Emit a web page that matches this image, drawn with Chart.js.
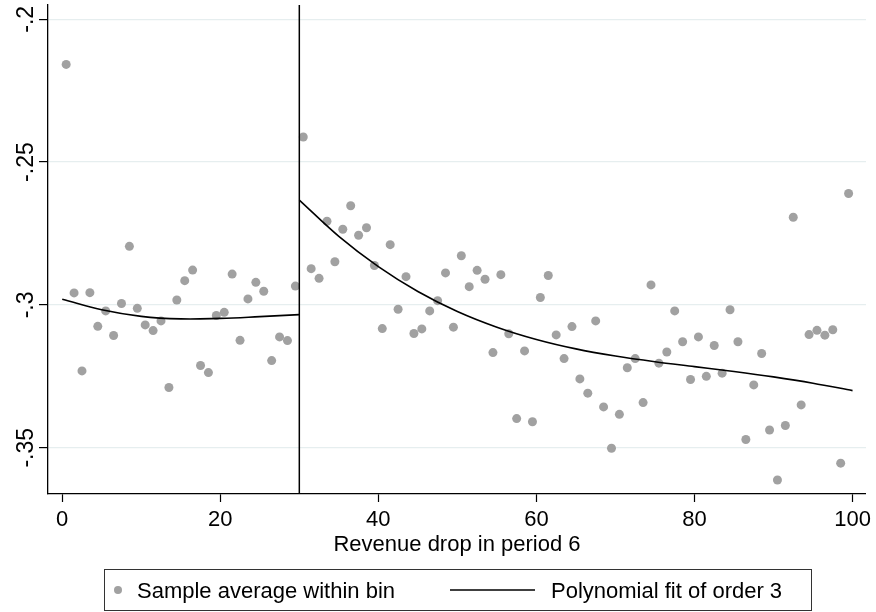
<!DOCTYPE html>
<html>
<head>
<meta charset="utf-8">
<script src="https://cdn.jsdelivr.net/npm/chart.js@4.4.1/dist/chart.umd.min.js"></script>
<style>
  html, body { margin: 0; padding: 0; background: #ffffff; }
  #wrap { position: relative; width: 876px; height: 612px; }
</style>
</head>
<body>
<div id="wrap"><canvas id="c" width="876" height="612"></canvas></div>
<script>
// ---- data ----
const binX = [
  0.5, 1.5, 2.5, 3.5, 4.5, 5.5, 6.5, 7.5, 8.5, 9.5,
  10.5, 11.5, 12.5, 13.5, 14.5, 15.5, 16.5, 17.5, 18.5, 19.5,
  20.5, 21.5, 22.5, 23.5, 24.5, 25.5, 26.5, 27.5, 28.5, 29.5,
  30.5, 31.5, 32.5, 33.5, 34.5, 35.5, 36.5, 37.5, 38.5, 39.5,
  40.5, 41.5, 42.5, 43.5, 44.5, 45.5, 46.5, 47.5, 48.5, 49.5,
  50.5, 51.5, 52.5, 53.5, 54.5, 55.5, 56.5, 57.5, 58.5, 59.5,
  60.5, 61.5, 62.5, 63.5, 64.5, 65.5, 66.5, 67.5, 68.5, 69.5,
  70.5, 71.5, 72.5, 73.5, 74.5, 75.5, 76.5, 77.5, 78.5, 79.5,
  80.5, 81.5, 82.5, 83.5, 84.5, 85.5, 86.5, 87.5, 88.5, 89.5,
  90.5, 91.5, 92.5, 93.5, 94.5, 95.5, 96.5, 97.5, 98.5, 99.5
];
const binMean = [
  -0.2158, -0.2958, -0.3231, -0.2957, -0.3075, -0.3021, -0.3107, -0.2995, -0.2795, -0.3012,
  -0.3070, -0.3090, -0.3056, -0.3289, -0.2983, -0.2915, -0.2878, -0.3212, -0.3237, -0.3037,
  -0.3026, -0.2892, -0.3124, -0.2979, -0.2921, -0.2952, -0.3195, -0.3112, -0.3125, -0.2934,
  -0.2412, -0.2873, -0.2907, -0.2707, -0.2849, -0.2735, -0.2653, -0.2756, -0.2730, -0.2862,
  -0.3083, -0.2789, -0.3015, -0.2901, -0.3100, -0.3084, -0.3021, -0.2985, -0.2888, -0.3078,
  -0.2828, -0.2936, -0.2879, -0.2910, -0.3167, -0.2894, -0.3101, -0.3398, -0.3161, -0.3409,
  -0.2974, -0.2897, -0.3105, -0.3188, -0.3076, -0.3259, -0.3309, -0.3056, -0.3357, -0.3502,
  -0.3383, -0.3220, -0.3188, -0.3342, -0.2930, -0.3204, -0.3165, -0.3021, -0.3129, -0.3261,
  -0.3112, -0.3250, -0.3142, -0.3239, -0.3017, -0.3129, -0.3471, -0.3280, -0.3170, -0.3438,
  -0.3613, -0.3422, -0.2693, -0.3350, -0.3104, -0.3089, -0.3106, -0.3087, -0.3554, -0.2610
];
const fitLeftX  = [0, 5, 10, 15, 20, 25, 30];
const fitLeftY  = [-0.2980, -0.3017, -0.3040, -0.3049, -0.3047, -0.3041, -0.3034];
const fitRightX = [30, 35, 40, 45, 50, 55, 60, 65, 70, 75, 80, 85, 90, 95, 100];
const fitRightY = [-0.2633, -0.2760, -0.2866, -0.2953, -0.3023, -0.3078, -0.3121, -0.3154,
                   -0.3179, -0.3199, -0.3216, -0.3233, -0.3252, -0.3274, -0.3300];
const cutoff = 30;
const xTickValues = [0, 20, 40, 60, 80, 100];
const xTickLabels = ["0", "20", "40", "60", "80", "100"];
const yTickValues = [-0.35, -0.3, -0.25, -0.2];
const yTickLabels = ["-.35", "-.3", "-.25", "-.2"];
const xTitle = "Revenue drop in period 6";
const legendLabels = ["Sample average within bin", "Polynomial fit of order 3"];

// ---- styles ----
const FONT = "'Liberation Sans', Arial, Helvetica, sans-serif";
const GREY = "#a1a1a1";
const INK = "#000000";

const toPts = (xs, ys) => xs.map((x, i) => ({ x: x, y: ys[i] }));

const cutoffLine = {
  id: 'cutoffLine',
  afterDatasetsDraw(chart) {
    const { ctx, chartArea, scales } = chart;
    const px = scales.x.getPixelForValue(cutoff);
    ctx.save();
    ctx.strokeStyle = INK;
    ctx.lineWidth = 1.5;
    ctx.beginPath();
    ctx.moveTo(px, chartArea.top);
    ctx.lineTo(px, chartArea.bottom);
    ctx.stroke();
    ctx.restore();
  }
};

const yLabels = {
  id: 'yLabels',
  afterDraw(chart) {
    const { ctx, scales } = chart;
    ctx.save();
    ctx.fillStyle = INK;
    ctx.font = "23px " + FONT;
    ctx.textAlign = 'center';
    ctx.textBaseline = 'alphabetic';
    yTickValues.forEach((v, i) => {
      const py = scales.y.getPixelForValue(v);
      ctx.save();
      ctx.translate(33, py);
      ctx.rotate(-Math.PI / 2);
      ctx.fillText(yTickLabels[i], 0, 0);
      ctx.restore();
    });
    ctx.restore();
  }
};

const boxLegend = {
  id: 'boxLegend',
  afterDraw(chart) {
    const { ctx } = chart;
    ctx.save();
    ctx.strokeStyle = "#333333";
    ctx.lineWidth = 1;
    ctx.strokeRect(104.5, 569.5, 707, 41);
    ctx.fillStyle = GREY;
    ctx.beginPath();
    ctx.arc(118, 590, 4, 0, Math.PI * 2);
    ctx.fill();
    ctx.strokeStyle = INK;
    ctx.lineWidth = 1.6;
    ctx.beginPath();
    ctx.moveTo(450, 590);
    ctx.lineTo(535, 590);
    ctx.stroke();
    ctx.fillStyle = INK;
    ctx.font = "22px " + FONT;
    ctx.textAlign = 'left';
    ctx.textBaseline = 'alphabetic';
    ctx.fillText(legendLabels[0], 137, 598);
    ctx.fillText(legendLabels[1], 551, 598);
    ctx.restore();
  }
};

new Chart(document.getElementById('c'), {
  type: 'scatter',
  data: {
    datasets: [
      {
        label: legendLabels[0],
        data: toPts(binX, binMean),
        showLine: false,
        pointRadius: 4.5,
        pointHoverRadius: 4.5,
        pointBackgroundColor: GREY,
        pointBorderWidth: 0,
        order: 2
      },
      {
        label: legendLabels[1],
        data: toPts(fitLeftX, fitLeftY),
        showLine: true,
        borderColor: INK,
        borderWidth: 1.6,
        pointRadius: 0,
        tension: 0.4,
        fill: false,
        order: 1
      },
      {
        label: legendLabels[1] + " (right)",
        data: toPts(fitRightX, fitRightY),
        showLine: true,
        borderColor: INK,
        borderWidth: 1.6,
        pointRadius: 0,
        cubicInterpolationMode: 'monotone',
        fill: false,
        order: 1
      }
    ]
  },
  options: {
    responsive: false,
    animation: false,
    devicePixelRatio: 1,
    layout: { padding: { top: 5, right: 7, bottom: 0, left: 0 } },
    plugins: {
      legend: { display: false },
      tooltip: { enabled: false },
      title: { display: false }
    },
    scales: {
      x: {
        type: 'linear',
        min: -1.8,
        max: 101.7,
        afterBuildTicks(scale) { scale.ticks = xTickValues.map(v => ({ value: v })); },
        afterFit(scale) { scale.height = 118; },
        ticks: {
          autoSkip: false,
          maxRotation: 0,
          padding: 5,
          color: INK,
          font: { family: FONT, size: 22 },
          callback(value) { const i = xTickValues.indexOf(value); return i >= 0 ? xTickLabels[i] : ''; }
        },
        grid: {
          color: 'rgba(0,0,0,0)',
          tickColor: INK,
          tickLength: 8,
          tickWidth: 1.2,
          drawTicks: true
        },
        border: { display: true, color: INK, width: 1.3 },
        title: {
          display: true,
          text: xTitle,
          color: INK,
          font: { family: FONT, size: 22 },
          padding: { top: 0, bottom: 54 }
        }
      },
      y: {
        type: 'linear',
        min: -0.3662,
        max: -0.195,
        afterBuildTicks(scale) { scale.ticks = yTickValues.map(v => ({ value: v })); },
        afterFit(scale) { scale.width = 48; },
        ticks: { display: false },
        grid: {
          color: '#e6eeef',
          lineWidth: 1.2,
          tickColor: INK,
          tickLength: 9,
          tickWidth: 1.2,
          drawTicks: true
        },
        border: { display: true, color: INK, width: 1.3 }
      }
    }
  },
  plugins: [cutoffLine, yLabels, boxLegend]
});
</script>
</body>
</html>
